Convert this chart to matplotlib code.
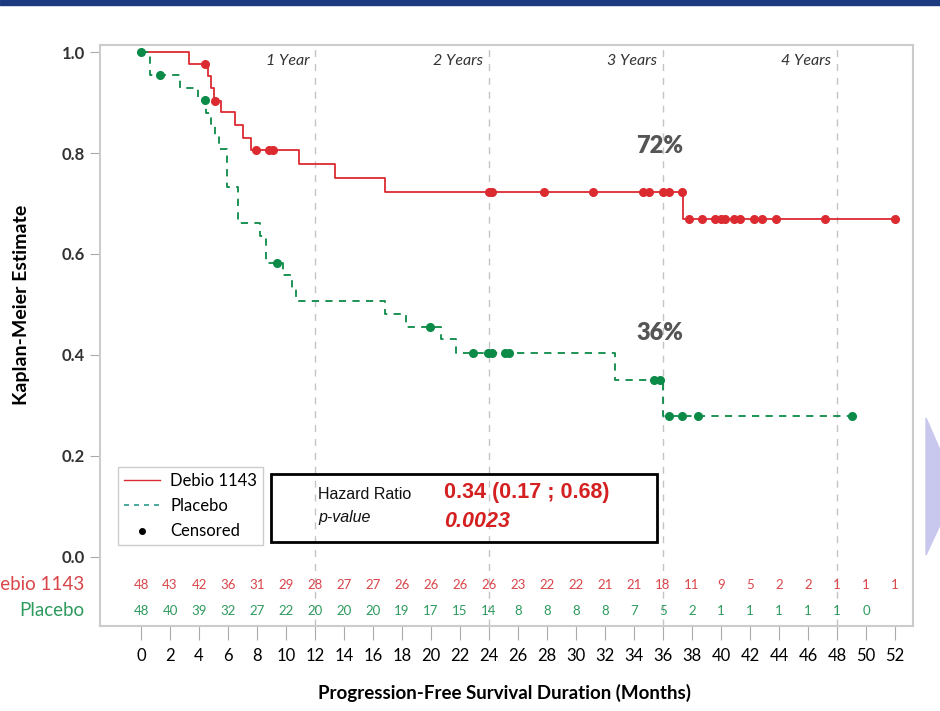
import matplotlib
matplotlib.use("Agg")
import matplotlib.pyplot as plt
from matplotlib.lines import Line2D
from matplotlib.patches import Rectangle, Polygon

# Debio 1143 (red) - Kaplan-Meier steps
deb_t = [0, 3.3, 4.6, 4.8, 5.0, 5.5, 6.5, 7.0, 7.6, 10.9, 13.4, 16.8, 37.4, 52.0]
deb_s = [1.0, 0.976, 0.952, 0.928, 0.903, 0.882, 0.855, 0.830, 0.806, 0.778, 0.750, 0.722, 0.670, 0.670]
deb_cens_t = [4.4, 5.1, 7.9, 8.8, 9.1, 24.0, 24.2, 27.8, 31.2, 34.6, 35.0, 36.0, 36.4, 37.3,
              37.8, 38.7, 39.6, 40.0, 40.3, 40.9, 41.3, 42.3, 42.8, 43.8, 47.2, 52.0]
deb_cens_s = [0.976, 0.903, 0.806, 0.806, 0.806, 0.722, 0.722, 0.722, 0.722, 0.722, 0.722, 0.722, 0.722, 0.722,
              0.670, 0.670, 0.670, 0.670, 0.670, 0.670, 0.670, 0.670, 0.670, 0.670, 0.670, 0.670]

# Placebo (green)
pla_t = [0, 0.6, 2.7, 3.9, 4.5, 4.8, 5.1, 5.4, 5.9, 6.7, 8.2, 8.6, 9.8, 10.4, 10.7,
         16.8, 18.3, 20.7, 21.7, 32.7, 36.0, 49.0]
pla_s = [1.0, 0.954, 0.928, 0.905, 0.880, 0.857, 0.833, 0.808, 0.733, 0.661, 0.635, 0.583, 0.558, 0.530, 0.507,
         0.481, 0.455, 0.431, 0.403, 0.350, 0.280, 0.280]
pla_cens_t = [0, 1.3, 4.4, 9.4, 19.9, 22.9, 23.9, 24.2, 25.1, 25.4, 35.4, 35.8, 36.4, 37.3, 38.4, 49.0]
pla_cens_s = [1.0, 0.954, 0.905, 0.583, 0.455, 0.403, 0.403, 0.403, 0.403, 0.403, 0.350, 0.350,
              0.280, 0.280, 0.280, 0.280]

# patients at risk
risk_times = list(range(0, 54, 2))
deb_risk = [48, 43, 42, 36, 31, 29, 28, 27, 27, 26, 26, 26, 26, 23, 22, 22, 21, 21, 18, 11, 9, 5, 2, 2, 1, 1, 1]
pla_risk = [48, 40, 39, 32, 27, 22, 20, 20, 20, 19, 17, 15, 14, 8, 8, 8, 8, 7, 5, 2, 1, 1, 1, 1, 1, 0]

year_marks = [12, 24, 36, 48]
year_labels = ["1 Year", "2 Years", "3 Years", "4 Years"]

red = "#dc2b30"
green = "#0c8a48"
red_txt = "#d9464a"
green_txt = "#2e9a5e"
narrow = ["Lato", "DejaVu Sans"]
arial = ["Liberation Sans", "DejaVu Sans"]

fig = plt.figure(figsize=(9.4, 7.11), dpi=100)
ax = fig.add_axes([100 / 940, 85 / 711, 813 / 940, 581 / 711])

# vertical year lines
for m, lab in zip(year_marks, year_labels):
    ax.axvline(m, color="#c4c4c4", lw=1, linestyle=(0, (5, 5)), zorder=1)
    ax.text(m - 0.4, 0.982, lab, ha="right", va="center", style="italic",
            fontsize=11.5, family=narrow, color="#333333")

# curves
ax.step(deb_t, deb_s, where="post", color=red, lw=1.3, zorder=3)
ax.step(pla_t, pla_s, where="post", color=green, lw=1.3, linestyle=(0, (4, 3.5)), zorder=3)
ax.plot(deb_cens_t, deb_cens_s, "o", color=red, ms=5.5, zorder=4)
ax.plot(pla_cens_t, pla_cens_s, "o", color=green, ms=5.5, zorder=4)

# percentages
ax.text(35.8, 0.814, "72%", ha="center", va="center", fontsize=17, weight="heavy",
        family=narrow, color="#555555")
ax.text(35.8, 0.444, "36%", ha="center", va="center", fontsize=17, weight="heavy",
        family=narrow, color="#555555")

# legend
handles = [Line2D([], [], color=red, lw=1),
           Line2D([], [], color="#2a9a8a", lw=1.2, linestyle=(0, (3, 3))),
           Line2D([], [], color="black", marker="o", ms=4, lw=0)]
leg = ax.legend(handles, ["Debio 1143", "Placebo", "Censored"], loc="lower left",
                bbox_to_anchor=(0.022, 0.139), borderaxespad=0, fancybox=False,
                edgecolor="#cccccc", framealpha=1, handlelength=2.2,
                prop={"family": narrow, "size": 12}, labelspacing=0.55,
                borderpad=0.35, handletextpad=0.6)
leg.get_frame().set_linewidth(1)

# hazard ratio box
ax.add_patch(Rectangle((8.97, 0.030), 35.6 - 8.97, 0.164 - 0.030, fill=False,
                       edgecolor="black", lw=2, zorder=5))
ax.text(12.2, 0.123, "Hazard Ratio", ha="left", va="center", fontsize=11.5,
        family=arial, color="#111111")
ax.text(12.2, 0.077, "p-value", ha="left", va="center", fontsize=11.5, style="italic",
        family=arial, color="#111111")
ax.text(20.9, 0.127, "0.34 (0.17 ; 0.68)", ha="left", va="center", fontsize=15.5,
        weight="bold", family=arial, color="#d42020")
ax.text(20.9, 0.071, "0.0023", ha="left", va="center", fontsize=15.5, weight="bold",
        style="italic", family=arial, color="#d42020")

# at-risk table
for t, n in zip(risk_times, deb_risk):
    ax.text(t, -0.055, str(n), ha="center", va="center", fontsize=9.5, family=narrow, color=red_txt)
for t, n in zip(risk_times, pla_risk):
    ax.text(t, -0.107, str(n), ha="center", va="center", fontsize=9.5, family=narrow, color=green_txt)
ax.text(-3.9, -0.055, "Debio 1143", ha="right", va="center", fontsize=13.5, family=narrow,
        color=red_txt, clip_on=False)
ax.text(-3.9, -0.107, "Placebo", ha="right", va="center", fontsize=13.5, family=narrow,
        color=green_txt, clip_on=False)

# axes
ax.set_xlim(-2.83, 53.24)
ax.set_ylim(-0.137, 1.014)
ax.set_xticks(risk_times)
ax.set_xticklabels([str(t) for t in risk_times], family=narrow, fontsize=12)
ax.set_yticks([0.0, 0.2, 0.4, 0.6, 0.8, 1.0])
ax.set_yticklabels(["0.0", "0.2", "0.4", "0.6", "0.8", "1.0"], family=narrow, fontsize=12,
                   weight="bold", color="#333333")
ax.tick_params(axis="x", length=10, color="#aaaaaa", pad=6)
ax.tick_params(axis="y", length=7, color="#aaaaaa", pad=4)
for sp in ax.spines.values():
    sp.set_color("#cccccc")
    sp.set_linewidth(1.5)

ax.set_ylabel("Kaplan-Meier Estimate", fontsize=14, weight="bold", family=narrow)
ax.yaxis.set_label_coords(-0.086, 0.552)
fig.text(505 / 940, 1 - 693 / 711, "Progression-Free Survival Duration (Months)",
         ha="center", va="center", fontsize=13.5, weight="bold", family=narrow)

# slide decorations: top band and right arrow
fig.patches.append(Rectangle((0, 1 - 5 / 711), 1, 5 / 711, transform=fig.transFigure,
                             color="#1c3a80", zorder=0))
fig.patches.append(Polygon([(926 / 940, 1 - 418 / 711), (1.0, 1 - 450 / 711),
                            (1.0, 1 - 525 / 711), (926 / 940, 1 - 555 / 711)],
                           transform=fig.transFigure, color="#c8c8ef", zorder=0))

fig.savefig("out.png", dpi=100)
